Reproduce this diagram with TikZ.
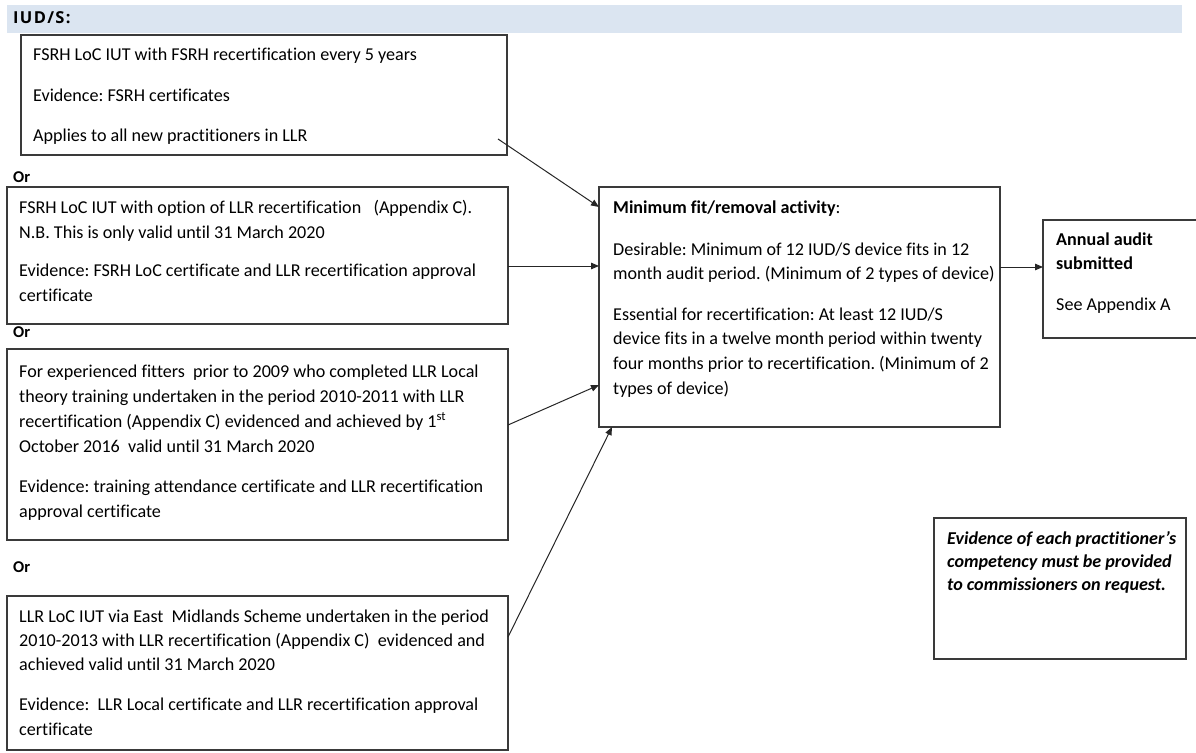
\documentclass[tikz,border=0pt]{standalone}
\usepackage{fontspec}
\setmainfont{Carlito}[Ligatures=NoCommon]
\newfontfamily\hdrfont[LetterSpace=8]{Open Sans}
\usetikzlibrary{arrows.meta,calc}
\definecolor{bandblue}{HTML}{DBE5F1}
\definecolor{boxline}{HTML}{3A3A3A}
\frenchspacing
\begin{document}
\begin{tikzpicture}[x=1pt,y=-1pt,
  box/.style={draw=boxline,line width=1.3pt,inner sep=0pt,outer sep=0pt,anchor=north west},
  txt/.style={anchor=base west,inner sep=0pt,font=\fontsize{18.1}{22}\selectfont},
  btxt/.style={txt,font=\fontsize{18.1}{22}\selectfont\bfseries},
  itxt/.style={txt,font=\fontsize{18.1}{22}\selectfont\bfseries\itshape},
  ortxt/.style={anchor=base west,inner sep=0pt,font=\fontsize{16.5}{20}\selectfont\bfseries},
  conn/.style={draw=black!85,line width=1pt,-{Triangle[length=8pt,width=6.5pt]}}]
\useasboundingbox (0,0) rectangle (1196,752);
\clip (0,0) rectangle (1196,752);
% header band
\node[fill=bandblue,inner sep=0pt,anchor=north west,minimum width=1175pt,minimum height=28pt] (band) at (7,5) {};
\node[anchor=base west,inner sep=0pt,font=\hdrfont\fontsize{16.5}{19}\selectfont\bfseries] (hdr) at (13,24) {IUD/S:};
% boxes
\node[box,minimum width=486pt,minimum height=120pt] (b1) at (21,35) {};
\node[box,minimum width=501pt,minimum height=137pt] (b2) at (7,187) {};
\node[box,minimum width=501pt,minimum height=191pt] (b3) at (7,349) {};
\node[box,minimum width=501pt,minimum height=154pt] (b4) at (7,596) {};
\node[box,minimum width=401pt,minimum height=240pt] (c) at (599,187) {};
\node[box,minimum width=170pt,minimum height=118pt] (a) at (1043,220) {};
\node[box,minimum width=252pt,minimum height=141pt] (ev) at (934,518) {};
% box 1 text
\node[txt] (b1l1) at (33,61) {FSRH LoC IUT with FSRH recertification every 5 years};
\node[txt] (b1l2) at (33,101) {Evidence: FSRH certificates};
\node[txt] (b1l3) at (33,141) {Applies to all new practitioners in LLR};
% Or labels
\node[ortxt] (or1) at (13,182) {Or};
\node[ortxt] (or2) at (13,337) {Or};
\node[ortxt] (or3) at (13,572) {Or};
% box 2 text
\node[txt] (b2l1) at (19,213) {FSRH LoC IUT with option of LLR recertification\ \ \ (Appendix C).};
\node[txt] (b2l2) at (19,238) {N.B. This is only valid until 31 March 2020};
\node[txt] (b2l3) at (19,276) {Evidence: FSRH LoC certificate and LLR recertification approval};
\node[txt] (b2l4) at (19,301) {certificate};
% box 3 text
\node[txt] (b3l1) at (19,377) {For experienced fitters\ \ prior to 2009 who completed LLR Local};
\node[txt] (b3l2) at (19,402) {theory training undertaken in the period 2010-2011 with LLR};
\node[txt] (b3l3) at (19,427) {recertification (Appendix C) evidenced and achieved by 1\textsuperscript{st}};
\node[txt] (b3l4) at (19,452) {October 2016\ \ valid until 31 March 2020};
\node[txt] (b3l5) at (19,492) {Evidence: training attendance certificate and LLR recertification};
\node[txt] (b3l6) at (19,517) {approval certificate};
% box 4 text
\node[txt] (b4l1) at (19,622) {LLR LoC IUT via East\ \ Midlands Scheme undertaken in the period};
\node[txt] (b4l2) at (19,646) {2010-2013 with LLR recertification (Appendix C)\ \ evidenced and};
\node[txt] (b4l3) at (19,670) {achieved valid until 31 March 2020};
\node[txt] (b4l4) at (19,710) {Evidence:\ \ LLR Local certificate and LLR recertification approval};
\node[txt] (b4l5) at (19,735) {certificate};
% central text
\node[txt] (cl1) at (613,213) {\textbf{Minimum fit/removal activity}:};
\node[txt] (cl2) at (613,255) {Desirable: Minimum of 12 IUD/S device fits in 12};
\node[txt] (cl3) at (613,279) {month audit period. (Minimum of 2 types of device)};
\node[txt] (cl4) at (613,320) {Essential for recertification: At least 12 IUD/S};
\node[txt] (cl5) at (613,344) {device fits in a twelve month period within twenty};
\node[txt] (cl6) at (613,369) {four months prior to recertification. (Minimum of 2};
\node[txt] (cl7) at (613,394) {types of device)};
% annual text
\node[btxt] (al1) at (1056,245) {Annual audit};
\node[btxt] (al2) at (1056,269) {submitted};
\node[txt] (al3) at (1056,310) {See Appendix A};
% evidence note
\node[itxt] (el1) at (947,544) {Evidence of each practitioner’s};
\node[itxt] (el2) at (947,567) {competency must be provided};
\node[itxt] (el3) at (947,590) {to commissioners on request.};
% connectors
\draw[conn] ([shift={(-9,-16)}]b1.south east) -- ([shift={(0,20)}]c.north west);
\draw[conn] ([shift={(0,79)}]b2.north east) -- ([shift={(0,79)}]c.north west);
\draw[conn] ([shift={(0,76)}]b3.north east) -- ([shift={(0,198)}]c.north west);
\draw[conn] ([shift={(0,41)}]b4.north east) -- ([shift={(13,0)}]c.south west);
\draw[conn] ([shift={(0,80)}]c.north east) -- ([shift={(0,47)}]a.north west);
\end{tikzpicture}
\end{document}
